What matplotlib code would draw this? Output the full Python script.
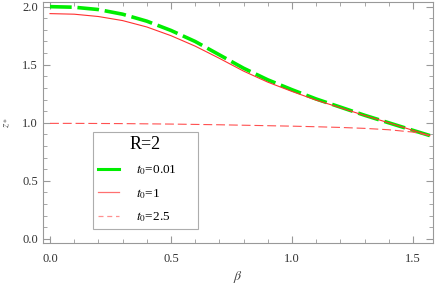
import numpy as np
import matplotlib
matplotlib.use("Agg")
import matplotlib.pyplot as plt
from matplotlib.lines import Line2D
from matplotlib.ticker import MultipleLocator

plt.rcParams['font.family'] = ['Liberation Serif', 'DejaVu Serif']
plt.rcParams['mathtext.fontset'] = 'stix'

# values
beta = [0.0, 0.1, 0.2, 0.3, 0.4, 0.5, 0.6, 0.7, 0.8, 0.9, 1.0, 1.1, 1.2, 1.3, 1.4, 1.5, 1.57]
z_t001 = [2.00, 1.995, 1.975, 1.935, 1.875, 1.795, 1.70, 1.585, 1.47, 1.37, 1.285, 1.205, 1.135, 1.065, 1.00, 0.935, 0.89]
z_t1 = [1.94, 1.935, 1.915, 1.88, 1.825, 1.75, 1.66, 1.555, 1.445, 1.35, 1.27, 1.195, 1.13, 1.063, 1.00, 0.935, 0.89]
z_t25 = [0.995, 0.995, 0.994, 0.993, 0.991, 0.989, 0.986, 0.983, 0.979, 0.975, 0.971, 0.966, 0.96, 0.952, 0.94, 0.92, 0.89]
labels = ['$t_0$=0.01', '$t_0$=1', '$t_0$=2.5']

fig = plt.figure(figsize=(4.36, 2.86), dpi=100)
ax = fig.add_axes([43 / 436, 43 / 286, 390 / 436, 241 / 286])

ax.plot(beta, z_t001, color='#00ee00', lw=2.6, dashes=(6, 1.6))
ax.plot(beta, z_t1, color='#ff3030', lw=0.8)
ax.plot(beta, z_t25, color='#ff5050', lw=0.8, dashes=(8, 3.5))

ax.set_xlim(-0.029, 1.583)
ax.set_ylim(-0.035, 2.04)
ax.xaxis.set_major_locator(MultipleLocator(0.5))
ax.xaxis.set_minor_locator(MultipleLocator(0.1))
ax.yaxis.set_major_locator(MultipleLocator(0.5))
ax.yaxis.set_minor_locator(MultipleLocator(0.1))
ax.tick_params(which='both', direction='in', top=True, right=True, color='#999999',
               labelsize=9, labelcolor='#333333')
ax.tick_params(which='major', length=5, width=0.8)
ax.tick_params(which='minor', length=3, width=0.6)
ax.tick_params(axis='x', pad=7)
for s in ax.spines.values():
    s.set_color('#999999')
    s.set_linewidth(0.8)

ax.set_xlabel(r'$\beta$', fontsize=10, color='#444444', labelpad=3)
ax.set_ylabel(r'$z_*$', fontsize=8, color='#444444', labelpad=8)

# legend keys as drawn in the original (solid green, lighter reds)
handles = [Line2D([], [], color='#00ee00', lw=2.2),
           Line2D([], [], color='#ff7070', lw=0.9),
           Line2D([], [], color='#ff9090', lw=0.9, dashes=(4, 3))]
leg = ax.legend(handles, labels, loc='lower left', bbox_to_anchor=(0.128, 0.058, 0.269, 0.39),
                mode='expand', borderaxespad=0, title='R=2', fontsize=9.5, title_fontsize=13,
                handlelength=1.6, handletextpad=1.3, labelspacing=0.75,
                frameon=True, fancybox=False, borderpad=0.35)
leg.get_frame().set_edgecolor('#999999')
leg.get_frame().set_linewidth(0.8)

fig.savefig('out.png', dpi=100)
